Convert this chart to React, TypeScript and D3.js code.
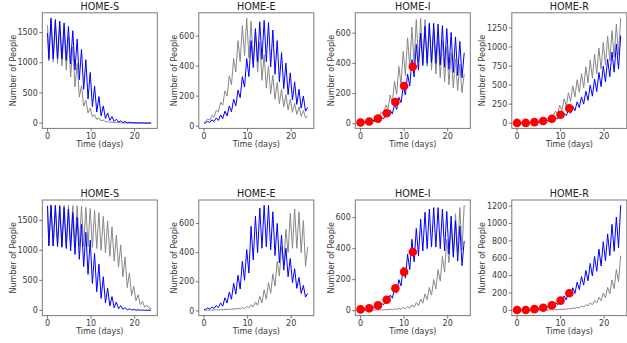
import React from 'react';
import * as d3 from 'd3';

const titles = ['HOME-S', 'HOME-E', 'HOME-I', 'HOME-R', 'HOME-S', 'HOME-E', 'HOME-I', 'HOME-R'];
const dayTicks = [0, 10, 20];
const yTickSets = [
  [0, 500, 1000, 1500],
  [0, 200, 400, 600],
  [0, 200, 400, 600],
  [0, 250, 500, 750, 1000, 1250],
  [0, 500, 1000, 1500],
  [0, 200, 400, 600],
  [0, 200, 400, 600],
  [0, 200, 400, 600, 800, 1000, 1200],
];

// observed counts, every second day
const obsDays = [0, 2, 4, 6, 8, 10, 12];
const obsI = [8, 15, 34, 70, 144, 250, 378];
const obsR = [4, 4, 14, 30, 59, 112, 196];

// value at day 0 of each run (panel order, blue then gray)
const blueStart = [1490, 20, 8, 2, 1740, 10, 8, 2];
const grayStart = [1620, 30, 5, 2, 1740, 5, 3, 1];

// daily troughs (lo) and peaks (hi), days 0..23
// top row
const s1BlueLo = [1060, 1065, 1070, 1060, 1040, 980, 880, 720, 560, 400, 275, 185, 120, 75, 45, 28, 17, 11, 7, 5, 3, 2, 1, 1];
const s1BlueHi = [1740, 1715, 1690, 1660, 1600, 1530, 1390, 1220, 1050, 840, 615, 440, 285, 170, 110, 66, 40, 25, 16, 10, 7, 5, 3, 2];
const s1GrayLo = [1030, 1010, 990, 950, 880, 760, 600, 430, 280, 170, 105, 62, 37, 22, 13, 8, 5, 3, 2, 1, 1, 0, 0, 0];
const s1GrayHi = [1700, 1670, 1630, 1560, 1440, 1260, 990, 620, 380, 250, 140, 85, 50, 30, 18, 11, 7, 4, 3, 2, 1, 1, 1, 0];

const e1BlueLo = [20, 24, 30, 38, 50, 68, 95, 135, 190, 260, 330, 390, 430, 445, 430, 395, 345, 295, 250, 210, 175, 145, 120, 100];
const e1BlueHi = [32, 42, 55, 75, 100, 135, 180, 240, 330, 450, 570, 650, 695, 705, 690, 640, 570, 490, 420, 355, 295, 245, 200, 125];
const e1GrayLo = [28, 40, 60, 95, 140, 200, 275, 360, 430, 470, 455, 415, 360, 305, 255, 215, 180, 150, 128, 108, 92, 78, 65, 55];
const e1GrayHi = [48, 72, 105, 160, 235, 335, 450, 570, 670, 720, 700, 640, 560, 475, 400, 340, 290, 248, 210, 180, 152, 128, 105, 65];

const i1BlueLo = [6, 8, 11, 15, 22, 32, 45, 65, 95, 140, 190, 250, 310, 355, 385, 400, 405, 400, 390, 375, 360, 340, 320, 305];
const i1BlueHi = [12, 17, 24, 33, 46, 64, 90, 125, 175, 245, 330, 425, 525, 600, 645, 665, 665, 660, 650, 630, 605, 575, 545, 470];
const i1GrayLo = [4, 8, 14, 24, 40, 62, 95, 140, 195, 260, 320, 370, 400, 410, 400, 380, 355, 330, 305, 280, 258, 238, 220, 205];
const i1GrayHi = [8, 16, 28, 48, 80, 125, 190, 280, 380, 480, 570, 640, 690, 700, 690, 665, 630, 590, 550, 510, 470, 430, 395, 330];

const r1BlueLo = [1, 2, 3, 5, 8, 12, 18, 26, 38, 55, 75, 100, 130, 165, 205, 250, 300, 355, 415, 480, 545, 610, 670, 710];
const r1BlueHi = [3, 5, 8, 12, 18, 27, 38, 52, 72, 98, 130, 170, 220, 280, 345, 420, 500, 580, 665, 750, 840, 935, 1040, 1150];
const r1GrayLo = [1, 2, 4, 7, 12, 20, 32, 50, 80, 120, 170, 225, 285, 345, 405, 465, 530, 590, 650, 710, 765, 820, 870, 900];
const r1GrayHi = [3, 6, 10, 17, 27, 40, 62, 100, 160, 235, 320, 400, 490, 570, 650, 740, 830, 905, 985, 1060, 1140, 1215, 1300, 1380];

// bottom row
const s2BlueLo = [1075, 1070, 1060, 1050, 1030, 990, 930, 850, 730, 600, 450, 310, 200, 125, 75, 45, 27, 16, 10, 6, 4, 3, 2, 1];
const s2BlueHi = [1750, 1745, 1735, 1715, 1685, 1630, 1550, 1430, 1300, 1170, 950, 770, 560, 370, 230, 140, 80, 45, 26, 16, 10, 6, 4, 3];
const s2GrayLo = [1075, 1075, 1075, 1075, 1075, 1075, 1070, 1070, 1065, 1060, 1050, 1030, 1000, 960, 900, 820, 720, 560, 380, 250, 160, 95, 55, 35];
const s2GrayHi = [1750, 1750, 1750, 1750, 1748, 1745, 1740, 1730, 1715, 1695, 1665, 1625, 1565, 1490, 1390, 1250, 1090, 890, 620, 400, 260, 150, 85, 35];

const e2BlueLo = [10, 13, 17, 23, 33, 55, 80, 115, 150, 210, 260, 350, 400, 430, 440, 420, 380, 330, 280, 235, 195, 155, 120, 95];
const e2BlueHi = [20, 27, 37, 55, 90, 130, 190, 245, 340, 420, 580, 650, 705, 725, 725, 680, 600, 520, 430, 360, 290, 230, 175, 120];
const e2GrayLo = [4, 5, 6, 7, 8, 9, 10, 12, 14, 17, 21, 28, 38, 55, 80, 120, 170, 240, 320, 400, 430, 430, 400, 305];
const e2GrayHi = [6, 7, 8, 9, 11, 13, 15, 18, 22, 30, 42, 62, 100, 145, 195, 255, 340, 440, 560, 670, 700, 680, 620, 440];

const i2BlueLo = [6, 9, 13, 18, 26, 38, 55, 80, 115, 160, 210, 265, 315, 355, 385, 400, 410, 410, 400, 385, 365, 345, 320, 290];
const i2BlueHi = [12, 17, 24, 34, 48, 68, 100, 140, 200, 280, 365, 460, 530, 590, 635, 655, 665, 665, 655, 640, 610, 580, 545, 450];
const i2GrayLo = [2, 2, 3, 3, 4, 4, 5, 6, 7, 9, 12, 16, 22, 32, 48, 70, 100, 140, 190, 250, 310, 355, 380, 390];
const i2GrayHi = [3, 4, 5, 6, 7, 8, 10, 12, 15, 20, 27, 37, 52, 75, 108, 150, 200, 265, 350, 460, 560, 625, 665, 680];

const r2BlueLo = [1, 2, 3, 5, 8, 13, 20, 30, 45, 65, 90, 120, 155, 195, 240, 290, 340, 395, 450, 510, 570, 630, 680, 720];
const r2BlueHi = [3, 5, 9, 14, 21, 31, 45, 65, 90, 125, 165, 210, 260, 325, 390, 460, 540, 620, 705, 790, 880, 990, 1075, 1210];
const r2GrayLo = [0, 1, 1, 1, 2, 2, 3, 4, 5, 7, 9, 12, 16, 21, 28, 37, 50, 65, 85, 110, 145, 190, 250, 330];
const r2GrayHi = [1, 1, 2, 2, 3, 4, 5, 7, 9, 12, 16, 22, 29, 38, 50, 66, 86, 112, 150, 200, 265, 350, 470, 630];

const blueLo = [s1BlueLo, e1BlueLo, i1BlueLo, r1BlueLo, s2BlueLo, e2BlueLo, i2BlueLo, r2BlueLo];
const blueHi = [s1BlueHi, e1BlueHi, i1BlueHi, r1BlueHi, s2BlueHi, e2BlueHi, i2BlueHi, r2BlueHi];
const grayLo = [s1GrayLo, e1GrayLo, i1GrayLo, r1GrayLo, s2GrayLo, e2GrayLo, i2GrayLo, r2GrayLo];
const grayHi = [s1GrayHi, e1GrayHi, i1GrayHi, r1GrayHi, s2GrayHi, e2GrayHi, i2GrayHi, r2GrayHi];
const observed = [null, null, obsI, obsR, null, null, obsI, obsR];

const W = 627;
const H = 343;
const colLeft = [42.3, 198.8, 355.3, 511.8];
const rowTop = [12.8, 200];
const PW = 115;
const PH = 115.6;
const FONT = 'DejaVu Sans, sans-serif';
const TEXT = '#3a3a3a';

type Pt = [number, number];

// trough in the early part of each day, peak later in the day
const toPoints = (start: number, lo: number[], hi: number[]): Pt[] => {
  const pts: Pt[] = [[0, start]];
  lo.forEach((v, d) => {
    pts.push([d + 0.3, v]);
    pts.push([d + 0.8, hi[d]]);
  });
  return pts;
};

const Panel = ({ i }: { i: number }) => {
  const left = colLeft[i % 4];
  const top = rowTop[Math.floor(i / 4)];
  const blue = toPoints(blueStart[i], blueLo[i], blueHi[i]);
  const gray = toPoints(grayStart[i], grayLo[i], grayHi[i]);
  const obs = observed[i];

  const vals = [...blue, ...gray].map(d => d[1]).concat(obs || []);
  const [lo, hi] = d3.extent(vals) as [number, number];
  const pad = (hi - lo) * 0.05;

  const x = d3.scaleLinear().domain([-1.2, 25.2]).range([left, left + PW]);
  const y = d3.scaleLinear().domain([lo - pad, hi + pad]).range([top + PH, top]);
  const line = d3.line<Pt>().x(d => x(d[0])).y(d => y(d[1]));

  const yTicks = yTickSets[i];
  const maxChars = d3.max(yTicks, t => String(t).length) || 1;
  const ylabX = left - (maxChars * 5.09 + 6.4);

  return (
    <g>
      <path d={line(gray) || ''} fill="none" stroke="#888" strokeWidth={1} />
      <path d={line(blue) || ''} fill="none" stroke="#0000ff" strokeWidth={1} />
      {obs &&
        obsDays.map((d, k) => (
          <circle key={k} cx={x(d)} cy={y(obs[k])} r={4.3} fill="#ff0000" />
        ))}
      <rect x={left} y={top} width={PW} height={PH} fill="none" stroke="#7a7a7a" strokeWidth={1} />
      {dayTicks.map(t => (
        <g key={t}>
          <line x1={x(t)} x2={x(t)} y1={top + PH} y2={top + PH + 3} stroke="#555" strokeWidth={0.8} />
          <text x={x(t)} y={top + PH + 10.5} fontSize={8} textAnchor="middle" fontFamily={FONT} fill={TEXT}>
            {t}
          </text>
        </g>
      ))}
      {yTicks.map(t => (
        <g key={t}>
          <line x1={left - 3} x2={left} y1={y(t)} y2={y(t)} stroke="#555" strokeWidth={0.8} />
          <text x={left - 4.5} y={y(t)} dy="0.34em" fontSize={8} textAnchor="end" fontFamily={FONT} fill={TEXT}>
            {t}
          </text>
        </g>
      ))}
      <text x={left + PW / 2} y={top + PH + 18.5} fontSize={8} textAnchor="middle" fontFamily={FONT} fill={TEXT}>
        Time (days)
      </text>
      <text
        transform={`translate(${ylabX},${top + PH / 2}) rotate(-90)`}
        fontSize={8}
        textAnchor="middle"
        fontFamily={FONT}
        fill={TEXT}
      >
        Number of People
      </text>
      <text x={left + PW / 2} y={top - 3} fontSize={9.6} textAnchor="middle" fontFamily={FONT} fill="#222">
        {titles[i]}
      </text>
    </g>
  );
};

const App = () => (
  <svg width={W} height={H} style={{ position: 'absolute', left: 0, top: 0, background: '#fff' }}>
    {titles.map((_, i) => (
      <Panel key={i} i={i} />
    ))}
  </svg>
);

export default App;
